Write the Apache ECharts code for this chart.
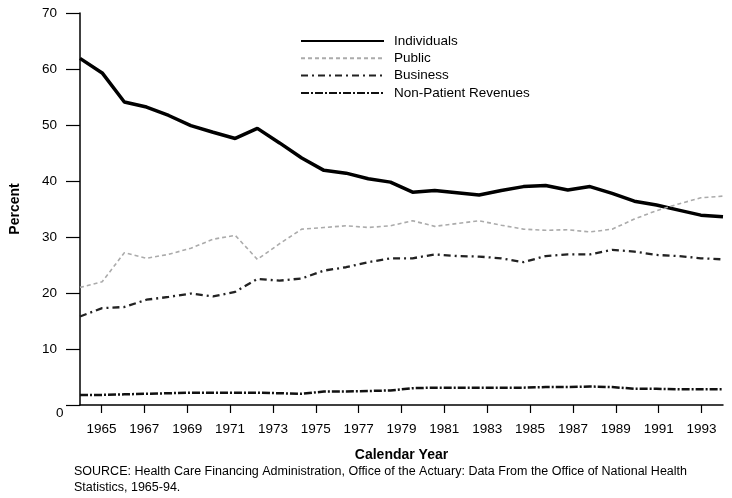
<!DOCTYPE html>
<html>
<head>
<meta charset="utf-8">
<script src="https://cdn.jsdelivr.net/npm/echarts@6/dist/echarts.min.js"></script>
<style>
html,body{margin:0;padding:0;background:#fff;}
#chart{width:732px;height:498px;}
</style>
</head>
<body>
<div id="chart"></div>
<script>
// Data years (1965-94), plotted evenly across the axis span
const years = ['1965','1966','1967','1968','1969','1970','1971','1972','1973','1974','1975','1976','1977','1978','1979','1980','1981','1982','1983','1984','1985','1986','1987','1988','1989','1990','1991','1992','1993','1994'];
const individuals = [61.9,59.3,54.1,53.2,51.7,49.9,48.7,47.6,49.4,46.8,44.1,41.9,41.4,40.4,39.8,38.0,38.3,37.9,37.5,38.3,39.0,39.2,38.4,39.0,37.8,36.4,35.7,34.8,33.9,33.6];
const publicShare = [21.0,22.0,27.2,26.2,26.9,28.0,29.6,30.3,26.0,28.8,31.4,31.7,32.0,31.7,32.0,32.9,31.9,32.4,32.9,32.1,31.4,31.2,31.3,30.9,31.4,33.2,34.7,35.9,37.0,37.3];
const business = [15.8,17.3,17.5,18.8,19.3,19.9,19.4,20.2,22.5,22.2,22.6,24.0,24.6,25.5,26.2,26.2,26.9,26.6,26.5,26.2,25.5,26.6,26.9,26.9,27.7,27.4,26.8,26.6,26.2,26.0];
const nonPatient = [1.8,1.8,1.9,2.0,2.1,2.2,2.2,2.2,2.2,2.1,2.0,2.4,2.4,2.5,2.6,3.0,3.1,3.1,3.1,3.1,3.1,3.2,3.2,3.3,3.2,2.9,2.9,2.8,2.8,2.8];
const seriesNames = ['Individuals','Public','Business','Non-Patient Revenues'];
const xTickLabels = ['1965','1967','1969','1971','1973','1975','1977','1979','1981','1983','1985','1987','1989','1991','1993'];
const yTickLabels = ['0','10','20','30','40','50','60','70'];
const sourceLines = ['SOURCE: Health Care Financing Administration, Office of the Actuary: Data From the Office of National Health','Statistics, 1965-94.'];

const FONT = 'Liberation Sans, Arial, Helvetica, sans-serif';
const chart = echarts.init(document.getElementById('chart'), null, {renderer:'canvas'});
const xTickValues = xTickLabels.map(Number);

const styles = [
  {color:'#000', width:3.5, type:'solid'},
  {color:'#ababab', width:1.6, type:[4,3]},
  {color:'#222', width:2.3, type:[7,4,2,4]},
  {color:'#111', width:2.5, type:[8,2,2,2]}
];
const dataSets = [individuals, publicShare, business, nonPatient];

chart.setOption({
  animation:false,
  backgroundColor:'#fff',
  grid:{left:73, right:9, top:13, bottom:93, containLabel:false},
  legend:{
    orient:'vertical', left:300, top:34, padding:0,
    itemWidth:83, itemHeight:14, itemGap:3.3,
    itemStyle:{opacity:0},
    textStyle:{fontFamily:FONT, fontSize:13.5, color:'#000', padding:[0,0,0,5], lineHeight:14},
    data:seriesNames.map(function(n){ return {name:n}; })
  },
  xAxis:[
    {
      type:'value', min:1964, max:1994, position:'bottom',
      name:'Calendar Year', nameLocation:'middle', nameGap:43,
      nameTextStyle:{fontFamily:FONT, fontSize:14, fontWeight:'bold', color:'#000'},
      axisLine:{show:true, lineStyle:{color:'#000', width:1.5}},
      axisTick:{show:true, length:8, customValues:xTickValues, lineStyle:{color:'#000', width:1.2}},
      axisLabel:{show:true, customValues:xTickValues, margin:17, fontFamily:FONT, fontSize:13.5, color:'#000',
        formatter:function(v){ const i = xTickValues.indexOf(Math.round(v)); return i>=0 ? xTickLabels[i] : ''; }},
      splitLine:{show:false}
    },
    {
      type:'category', data:years, boundaryGap:false, show:false
    }
  ],
  yAxis:{
    type:'value', min:0, max:70, interval:10,
    name:'Percent', nameLocation:'middle', nameGap:58,
    nameTextStyle:{fontFamily:FONT, fontSize:14, fontWeight:'bold', color:'#000'},
    axisLine:{show:true, lineStyle:{color:'#000', width:1.5}},
    axisTick:{show:true, length:14, lineStyle:{color:'#000', width:1.2}},
    axisLabel:{margin:23, fontFamily:FONT, fontSize:13.5, color:'#000',
      formatter:function(v){ return v===0 ? '' : yTickLabels[v/10]; }},
    splitLine:{show:false}
  },
  graphic:[
    {type:'text', left:56, top:406, style:{text:yTickLabels[0], font:'13.5px '+FONT, fill:'#000'}},
    {type:'text', left:74, top:465, style:{text:sourceLines[0], font:'12.5px '+FONT, fill:'#000'}},
    {type:'text', left:74, top:481, style:{text:sourceLines[1], font:'12.5px '+FONT, fill:'#000'}}
  ],
  series:seriesNames.map(function(n,i){
    return {
      name:n, type:'line', xAxisIndex:1, data:dataSets[i],
      symbol:'none', smooth:false,
      lineStyle:{color:styles[i].color, width:styles[i].width, type:styles[i].type},
      itemStyle:{color:styles[i].color},
      emphasis:{disabled:true}
    };
  })
});
</script>
</body>
</html>
